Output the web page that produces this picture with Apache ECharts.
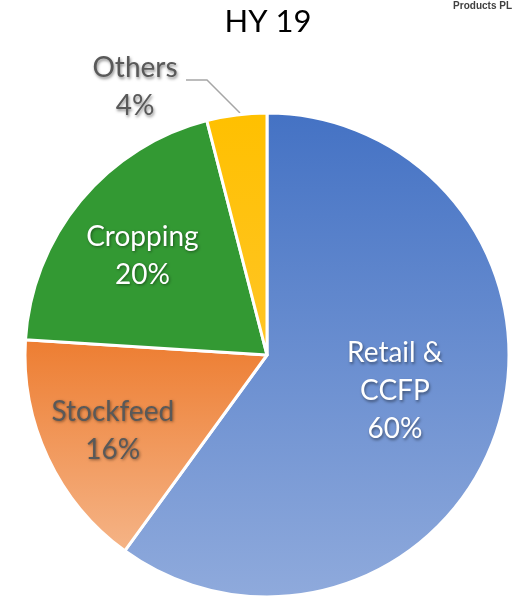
<!DOCTYPE html>
<html>
<head>
<meta charset="utf-8">
<script src="https://cdn.jsdelivr.net/npm/echarts@6/dist/echarts.min.js"></script>
<style>
  html, body { margin: 0; padding: 0; background: #ffffff; }
  #chart { width: 512px; height: 597px; }
</style>
</head>
<body>
<div id="chart"></div>
<script>
// Revenue split by segment, half year 2019
const segments = ['Retail &\nCCFP', 'Stockfeed', 'Cropping', 'Others'];
const shares = [60, 16, 20, 4];

const FONT = 'Lato, "Open Sans", "DejaVu Sans", sans-serif';

const fills = [
  { type: 'linear', x: 0, y: 0, x2: 0, y2: 1,
    colorStops: [{ offset: 0, color: '#4472C4' }, { offset: 1, color: '#8FAADC' }] },
  { type: 'linear', x: 0, y: 0, x2: 0, y2: 1,
    colorStops: [{ offset: 0, color: '#ED7D31' }, { offset: 1, color: '#F5B487' }] },
  '#339933',
  { type: 'linear', x: 0, y: 0, x2: 0, y2: 1,
    colorStops: [{ offset: 0, color: '#FFC000' }, { offset: 1, color: '#FFC526' }] }
];

const labelColors = ['#ffffff', '#595959', '#ffffff', '#595959'];
// nudges applied to the inside labels
const labelNudge = [[10, -2], [-42, 23], [-29, -20], [0, 0]];

const chart = echarts.init(document.getElementById('chart'), null, { renderer: 'canvas' });

const data = segments.map((name, i) => ({
  name: name,
  value: shares[i],
  itemStyle: { color: fills[i] },
  label: {
    color: labelColors[i],
    position: i === 3 ? 'outside' : 'inside'
  },
  labelLine: { show: i === 3 }
}));

chart.setOption({
  animation: false,
  graphic: [{
    type: 'text',
    right: 0,
    top: 1,
    style: { text: 'Products PL', font: 'bold 10px "Liberation Sans", Arial, sans-serif', fill: '#404040' }
  }, {
    type: 'text',
    x: 268,
    y: 22,
    style: {
      text: 'HY 19',
      font: '31px ' + FONT,
      fill: '#000000',
      align: 'center',
      verticalAlign: 'middle'
    }
  }],
  series: [{
    type: 'pie',
    center: [267, 355],
    radius: [0, 242],
    startAngle: 90,
    clockwise: true,
    data: data,
    itemStyle: { borderColor: '#ffffff', borderWidth: 3 },
    label: {
      show: true,
      formatter: p => p.name + '\n' + p.value + '%',
      fontFamily: FONT,
      fontSize: 28,
      lineHeight: 38,
      align: 'center',
      textShadowColor: 'rgba(0,0,0,0.45)',
      textShadowBlur: 3,
      textShadowOffsetX: 1,
      textShadowOffsetY: 1.5
    },
    labelLine: {
      lineStyle: { color: '#A6A6A6', width: 1.5 },
      smooth: false
    },
    labelLayout: function (params) {
      const i = params.dataIndex;
      if (i === 3) {
        return {
          x: 135, y: 87, align: 'center', verticalAlign: 'middle',
          labelLinePoints: [[240, 113], [207, 80], [186, 80]]
        };
      }
      return { dx: labelNudge[i][0], dy: labelNudge[i][1] };
    }
  }]
});
</script>
</body>
</html>
